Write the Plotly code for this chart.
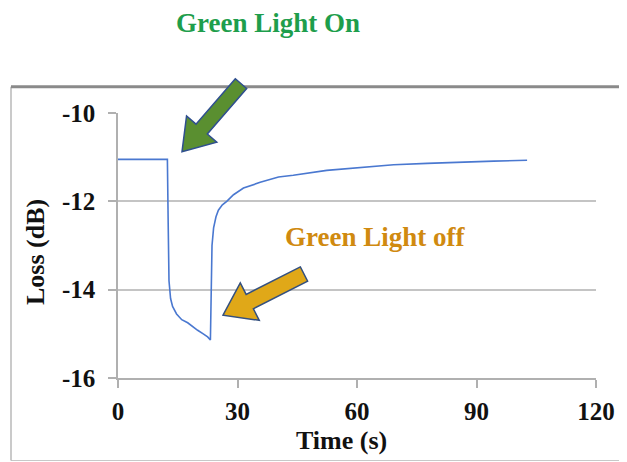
import math
import plotly.graph_objects as go

time_s = [0, 5, 10, 12.4, 12.6, 12.8, 13.2, 13.7, 14.7, 16.0, 17.5, 18.9, 20.0, 21.4, 22.5, 23.2,
          23.3, 23.4, 23.6, 24.0, 24.6, 25.2, 26.2, 27.3, 29.0, 31.5, 35.7, 40.3, 44.0, 52.4,
          60.8, 69.2, 77.6, 85.9, 94.3, 102.7]
loss_db = [-11.05, -11.05, -11.05, -11.05, -12.5, -13.8, -14.2, -14.38, -14.55, -14.68, -14.75,
           -14.85, -14.92, -15.0, -15.07, -15.14,
           -14.5, -13.6, -13.0, -12.6, -12.35, -12.2, -12.08, -12.0, -11.85, -11.70, -11.57,
           -11.45, -11.41, -11.30, -11.23, -11.17, -11.14, -11.11, -11.09, -11.07]

x_ticks = [0, 30, 60, 90, 120]
x_tick_text = ["0", "30", "60", "90", "120"]
y_ticks = [-16, -14, -12, -10]
y_tick_text = ["-16", "-14", "-12", "-10"]

label_on = "Green Light On"
label_off = "Green Light off"
x_title = "Time (s)"
y_title = "Loss (dB)"

SERIF = "Liberation Serif"
OFF = 8  # page body margin offset
W, H = 627 - OFF, 462 - OFF
# target positions in window pixels
L, R, T, B = 118, 596, 113.3, 377.7


def px_to_paper(px, py):
    return (px - L) / (R - L), (B - py) / (B - T)


def block_arrow(tail, tip, shaft_w, head_w, head_len):
    tx, ty = tail
    hx, hy = tip
    dx, dy = hx - tx, hy - ty
    n = math.hypot(dx, dy)
    ux, uy = dx / n, dy / n
    nx, ny = -uy, ux
    bx, by = hx - ux * head_len, hy - uy * head_len
    pts = [
        (tx + nx * shaft_w / 2, ty + ny * shaft_w / 2),
        (bx + nx * shaft_w / 2, by + ny * shaft_w / 2),
        (bx + nx * head_w / 2, by + ny * head_w / 2),
        (hx, hy),
        (bx - nx * head_w / 2, by - ny * head_w / 2),
        (bx - nx * shaft_w / 2, by - ny * shaft_w / 2),
        (tx - nx * shaft_w / 2, ty - ny * shaft_w / 2),
    ]
    pp = [px_to_paper(*p) for p in pts]
    return "M " + " L ".join(f"{x:.5f},{y:.5f}" for x, y in pp) + " Z"


fig = go.Figure()
fig.add_trace(go.Scatter(x=time_s, y=loss_db, mode="lines",
                         line=dict(color="#4a78d0", width=1.6), showlegend=False,
                         hoverinfo="skip"))

tickfont = dict(family=SERIF, size=25, color="#111111", weight="bold")
axis_common = dict(showline=True, linecolor="#b0b0b0", linewidth=1.5, ticks="outside",
                   ticklen=8, tickcolor="#b0b0b0", tickwidth=1.5, tickfont=tickfont,
                   zeroline=False, automargin=False, fixedrange=True)

fig.update_xaxes(range=[0, 120], tickmode="array", tickvals=x_ticks, ticktext=x_tick_text,
                 showgrid=False, ticklabelstandoff=2, **axis_common)
fig.update_yaxes(range=[-16, -10], tickmode="array", tickvals=y_ticks, ticktext=y_tick_text,
                 showgrid=True, gridcolor="#c4c4c4", gridwidth=2, ticklabelstandoff=8,
                 **axis_common)

# frame around chart
fx0, fy_top = px_to_paper(11, 87)
fx1, fy_bot = px_to_paper(640, 460)
fig.add_shape(type="line", xref="paper", yref="paper", x0=fx0, x1=fx1, y0=fy_bot, y1=fy_bot,
              line=dict(color="#c8c8c8", width=1.2))
fig.add_shape(type="line", xref="paper", yref="paper", x0=fx0, x1=fx0, y0=fy_bot, y1=fy_top,
              line=dict(color="#b8b8b8", width=1.5))
fig.add_shape(type="line", xref="paper", yref="paper", x0=fx0, x1=fx1, y0=fy_top, y1=fy_top,
              line=dict(color="#8a8a8a", width=3))

# block arrows
fig.add_shape(type="path", xref="paper", yref="paper",
              path=block_arrow((241, 84), (182, 152), 15, 40, 30),
              fillcolor="#5a8f30", line=dict(color="#2f4f8f", width=1.5))
fig.add_shape(type="path", xref="paper", yref="paper",
              path=block_arrow((304, 274), (223, 315), 16, 42, 30),
              fillcolor="#e0a818", line=dict(color="#34507f", width=1.5))

# text annotations
for text, (px, py), color in ((label_on, (268, 24), "#1e9e4c"),
                              (label_off, (375, 237), "#d08a10")):
    ax, ay = px_to_paper(px, py)
    fig.add_annotation(x=ax, y=ay, xref="paper", yref="paper", text=text, showarrow=False,
                       xanchor="center", yanchor="middle",
                       font=dict(family=SERIF, size=27, color=color, weight="bold"))

tx, ty = px_to_paper(341, 440)
fig.add_annotation(x=tx, y=ty, xref="paper", yref="paper", text=x_title, showarrow=False,
                   xanchor="center", yanchor="middle",
                   font=dict(family=SERIF, size=26, color="#111111", weight="bold"))
lx, ly = px_to_paper(35, 252)
fig.add_annotation(x=lx, y=ly, xref="paper", yref="paper", text=y_title, showarrow=False,
                   textangle=-90, xanchor="center", yanchor="middle",
                   font=dict(family=SERIF, size=26, color="#111111", weight="bold"))

fig.update_layout(width=W, height=H,
                  margin=dict(l=L - OFF, r=W - (R - OFF), t=T - OFF, b=H - (B - OFF)),
                  paper_bgcolor="white", plot_bgcolor="white")

fig.write_html("out.html")
